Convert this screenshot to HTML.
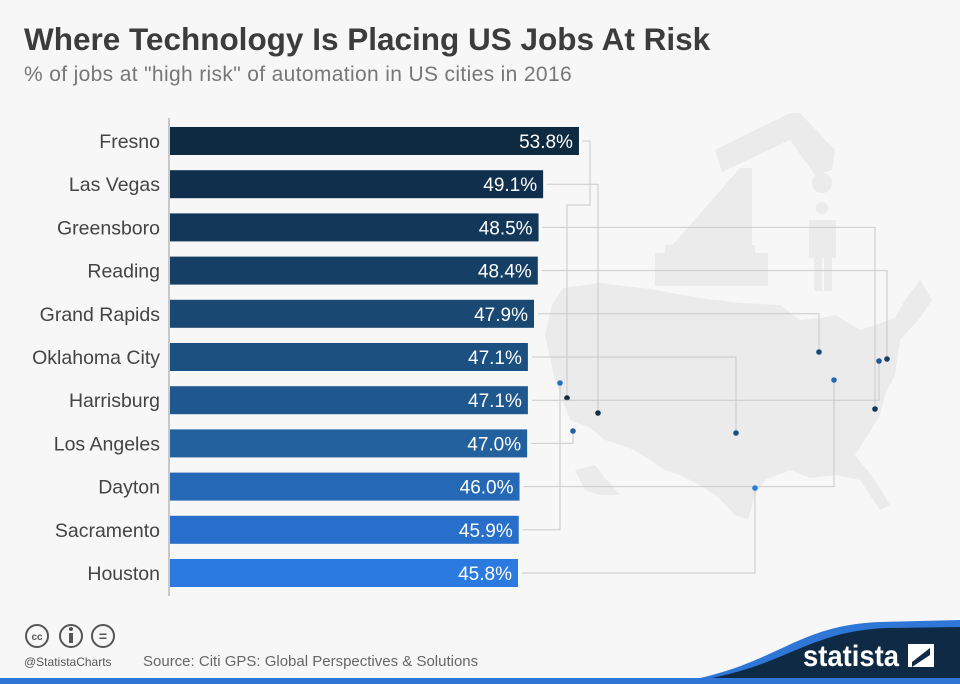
<!DOCTYPE html>
<html><head><meta charset="utf-8"><style>
body{margin:0;width:960px;height:684px;background:#f7f7f7;font-family:"Liberation Sans",sans-serif;overflow:hidden;position:relative}
h1{position:absolute;left:24px;top:21px;margin:0;font-size:31.5px;font-weight:bold;color:#3c3c3c;letter-spacing:0px}
.sub{position:absolute;left:24px;top:63px;font-size:21px;color:#777;letter-spacing:0.35px}
</style></head><body>
<h1>Where Technology Is Placing US Jobs At Risk</h1>
<div class="sub">% of jobs at "high risk" of automation in US cities in 2016</div>
<svg id="c" width="960" height="684" style="position:absolute;left:0;top:0">
<g fill="#ebebeb">
<rect x="655" y="253" width="113" height="33"/>
<rect x="665" y="245" width="90" height="10"/>
<polygon points="670,248 740,168 752,168 752,248"/>
<polygon points="715,150 790,113 800,113 835,150 832,170 815,175 790,140 722,172"/>
<circle cx="822" cy="183" r="10"/>
<circle cx="822" cy="208" r="6"/>
<rect x="809" y="220" width="27" height="38"/>
<rect x="814" y="256" width="8" height="35"/>
<rect x="824" y="256" width="8" height="35"/>
<polygon points="563,288 600,283 650,289 700,298 740,303 780,305 800,320 820,318 835,315 860,330 895,318 905,300 920,280 932,300 920,318 900,340 895,375 885,395 880,415 868,435 855,455 875,480 890,505 880,510 860,480 835,475 810,478 790,470 765,480 755,495 748,520 735,515 718,497 700,485 680,475 665,470 650,460 630,448 605,440 590,428 570,420 555,380 545,335 552,305"/>
<polygon points="575,470 595,465 605,478 620,495 600,495 585,490"/>
</g>
<g id="bars"></g>
<line x1="169" y1="118" x2="169" y2="596" stroke="#999" stroke-width="1"/>
<g>
<path d="M700,678 C780,660 800,625 880,622 L960,620 L960,684 L700,684Z" fill="#2f77d6"/>
<path d="M712,678 C790,662 810,632 885,628 L960,627 L960,678Z" fill="#0f2a45"/>
<rect x="0" y="678" width="960" height="6" fill="#2f77d6"/>
<text x="803" y="666" font-size="30" font-weight="bold" fill="#fff" textLength="96" lengthAdjust="spacingAndGlyphs">statista</text>
<polygon points="908,644 934,644 934,667 908,667" fill="#fff"/>
<polygon points="912,662 930,648 930,655 912,667" fill="#0f2a45"/>
<text x="24" y="666" font-size="12" fill="#555">@StatistaCharts</text>
<text x="143" y="666" font-size="15" fill="#666">Source: Citi GPS: Global Perspectives &amp; Solutions</text>
<g fill="none" stroke="#555" stroke-width="2"><circle cx="37" cy="636" r="11"/><circle cx="71" cy="636" r="11"/><circle cx="103" cy="636" r="11"/></g>
<text x="37" y="640" font-size="10" text-anchor="middle" fill="#555" font-weight="bold">cc</text>
<text x="103" y="641" font-size="14" text-anchor="middle" fill="#555" font-weight="bold">=</text>
<rect x="69" y="633" width="4" height="10" fill="#555"/><circle cx="71" cy="629" r="2" fill="#555"/>
</g>
</svg>
<script>
const cities=["Fresno","Las Vegas","Greensboro","Reading","Grand Rapids","Oklahoma City","Harrisburg","Los Angeles","Dayton","Sacramento","Houston"];
const values=[53.8,49.1,48.5,48.4,47.9,47.1,47.1,47.0,46.0,45.9,45.8];
const dotX=[567,598,875,887,819,736,879,573,834,560,755];
const dotY=[398,413,409,359,352,433,361,431,380,383,488];
const colors=["#0d2a40","#102f4c","#133758","#163f66","#194873","#1c5080","#1f588f","#22609e","#2568b5","#276fca","#2a7ae0"];
const ns="http://www.w3.org/2000/svg",g=document.getElementById('bars');
const x=v=>169+v*7.62, y=i=>141+i*43.2;
function mk(t,a){const e=document.createElementNS(ns,t);for(const k in a)e.setAttribute(k,a[k]);g.appendChild(e);return e;}
cities.forEach((c,i)=>{
 const yy=y(i),xe=x(values[i]);
 const d0=i===0?`M${xe+4},${yy}H590V205H${dotX[i]}V${dotY[i]}`:`M${xe+4},${yy}H${dotX[i]}V${dotY[i]}`;
 const p=mk('path',{d:d0,fill:'none',stroke:'#cacaca','stroke-width':1});
 
 
 const r=mk('rect',{x:170,y:yy-14,width:xe-170,height:28,fill:colors[i]});
 
 
 const l=mk('text',{x:160,y:yy+7,'text-anchor':'end','font-size':19.5,fill:'#444'});l.textContent=c;
 
 
 const v=mk('text',{x:xe-6,y:yy+7,'text-anchor':'end','font-size':19,fill:'#fff'});v.textContent=values[i].toFixed(1)+'%';
 
 
 const d=mk('circle',{cx:dotX[i],cy:dotY[i],r:2.8,fill:colors[i]});
 
 
});
</script>
</body></html>
